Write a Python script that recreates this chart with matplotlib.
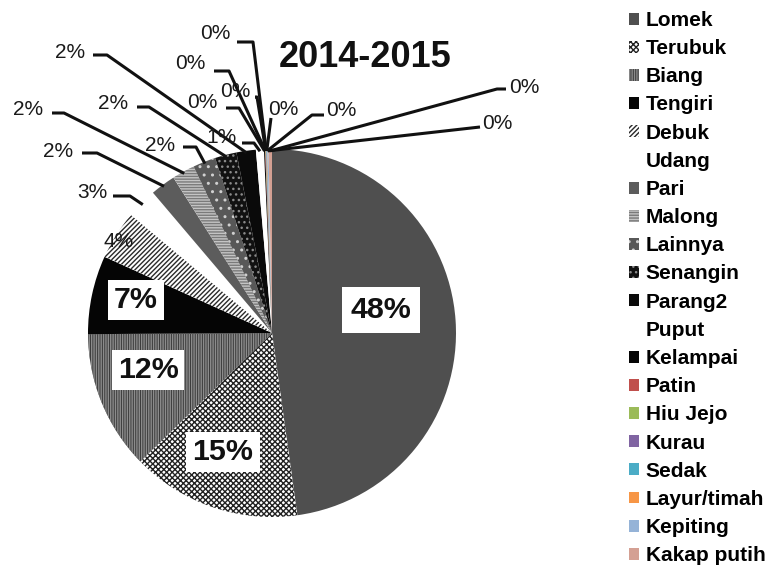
import matplotlib
matplotlib.use("Agg")
import matplotlib.pyplot as plt
import numpy as np
from matplotlib import font_manager


FIG_W, FIG_H = 774, 569

# catch share per species, 2014-2015 (percent)
species = [
    "Lomek", "Terubuk", "Biang", "Tengiri", "Debuk", "Udang", "Pari",
    "Malong", "Lainnya", "Senangin", "Parang2", "Puput", "Kelampai",
    "Patin", "Hiu Jejo", "Kurau", "Sedak", "Layur/timah", "Kepiting",
    "Kakap putih",
]
share = [
    47.8, 14.9, 12.2, 6.9, 4.3, 2.7, 2.2,
    2.0, 2.0, 1.9, 1.7, 0.7, 0.1,
    0.04, 0.04, 0.04, 0.04, 0.04, 0.1,
    0.3,
]

face_colors = [
    "#4f4f4f", "#ffffff", "#3a3a3a", "#050505", "#ffffff", "#ffffff", "#5c5c5c",
    "#c4c4c4", "#585858", "#111111", "#0a0a0a", "#ffffff", "#050505",
    "#c0504d", "#9bbb59", "#8064a2", "#4bacc6", "#f79646", "#95b3d7",
    "#d4a093",
]
hatches = [
    None, "xxxxxx", "|||||||", None, "///////", None, None,
    "------", "..", "...", None, None, None,
    None, None, None, None, None, None,
    None,
]
hatch_colors = [
    None, "#222222", "#8c8c8c", None, "#2a2a2a", None, None,
    "#7a7a7a", "#d0d0d0", "#8a8a8a", None, None, None,
    None, None, None, None, None, None,
    None,
]

# big labels drawn inside the slices, in white boxes
inside_labels = {"Lomek": (381, 310), "Terubuk": (223, 452),
                 "Biang": (148, 370), "Tengiri": (136, 300)}
# outside labels: text centre, leader start, leader elbow
outside_labels = {
    "Debuk": ((119, 241), None, None),
    "Udang": ((92, 192), (113, 196), (130, 196)),
    "Pari": ((58, 151), (82, 153), (97, 153)),
    "Malong": ((28, 109), (52, 113), (64, 113)),
    "Lainnya": ((160, 145), (183, 147), (196, 147)),
    "Senangin": ((113, 103), (137, 107), (149, 107)),
    "Parang2": ((70, 52), (93, 55), (107, 55)),
    "Puput": ((221, 137), (242, 143), (254, 143)),
    "Kelampai": ((202, 102), (226, 108), (239, 108)),
    "Patin": ((190, 63), (214, 71), (229, 71)),
    "Hiu Jejo": ((235, 91), (255, 97), (257, 97)),
    "Kurau": ((215, 33), (237, 42), (253, 42)),
    "Sedak": ((283, 109), (271, 118), (271, 118)),
    "Layur/timah": ((341, 110), (324, 115), (312, 115)),
    "Kepiting": ((497, 123), (480, 127), (480, 127)),
    "Kakap putih": ((524, 87), (506, 89), (497, 89)),
}


def pick_family(*names):
    installed = {f.name for f in font_manager.fontManager.ttflist}
    for name in names:
        if name in installed:
            return name
    return "DejaVu Sans"


REGULAR = pick_family("Liberation Sans", "Arial")
NARROW = pick_family("Liberation Sans Narrow", "Arial Narrow", "Liberation Sans")
narrow_scale = 1.0 if "Narrow" in NARROW else 0.84


def Y(y):
    return FIG_H - y


fig = plt.figure(figsize=(FIG_W / 100, FIG_H / 100), dpi=100)
ax = fig.add_axes([0, 0, 1, 1])

cx, cy, rad = 272, Y(333), 184
wedges, _ = ax.pie(
    share,
    colors=face_colors,
    startangle=90,
    counterclock=False,
    center=(cx, cy),
    radius=rad,
    wedgeprops=dict(linewidth=0),
)
for w, h, hc in zip(wedges, hatches, hatch_colors):
    if h:
        w.set_hatch(h)
        w.set_edgecolor(hc)
        if hasattr(w, "set_hatchcolor"):
            w.set_hatchcolor(hc)

ax.set_xlim(0, FIG_W)
ax.set_ylim(0, FIG_H)
ax.set_aspect("auto")
ax.axis("off")

total = sum(share)
pct = {name: 100.0 * v / total for name, v in zip(species, share)}

for name, (tx, ty) in inside_labels.items():
    pad = 0.3 if name == "Lomek" else 0.2
    ax.text(tx, Y(ty), f"{pct[name]:.0f}%", ha="center", va="center",
            fontsize=26 * narrow_scale, fontweight="bold", family=NARROW,
            color="#111111",
            bbox=dict(boxstyle=f"square,pad={pad}", fc="white", ec="none"))

for name, (txt, start, elbow) in outside_labels.items():
    w = wedges[species.index(name)]
    mid = np.deg2rad((w.theta1 + w.theta2) / 2)
    ax_pt = (cx + 0.99 * rad * np.cos(mid), cy + 0.99 * rad * np.sin(mid))
    if start is not None:
        xs = [start[0], elbow[0], ax_pt[0]]
        ys = [Y(start[1]), Y(elbow[1]), ax_pt[1]]
        ax.plot(xs, ys, color="#111111", lw=2.2, solid_capstyle="butt")
    ax.text(txt[0], Y(txt[1]), f"{pct[name]:.0f}%", ha="center", va="center",
            fontsize=15, family=REGULAR, color="#1a1a1a")

ax.text(365, Y(57), "2014-2015", ha="center", va="center",
        fontsize=31 * narrow_scale, fontweight="bold", family=NARROW,
        color="#111111")

leg = ax.legend(
    wedges, species,
    loc="upper left",
    bbox_to_anchor=(629 / FIG_W, Y(11) / FIG_H),
    bbox_transform=fig.transFigure,
    frameon=False,
    borderpad=0,
    borderaxespad=0,
    handlelength=0.5,
    handleheight=0.5,
    handletextpad=0.3,
    labelspacing=0.44,
    prop=dict(family=REGULAR, weight="bold", size=15),
)

fig.savefig("out.png", dpi=100)
